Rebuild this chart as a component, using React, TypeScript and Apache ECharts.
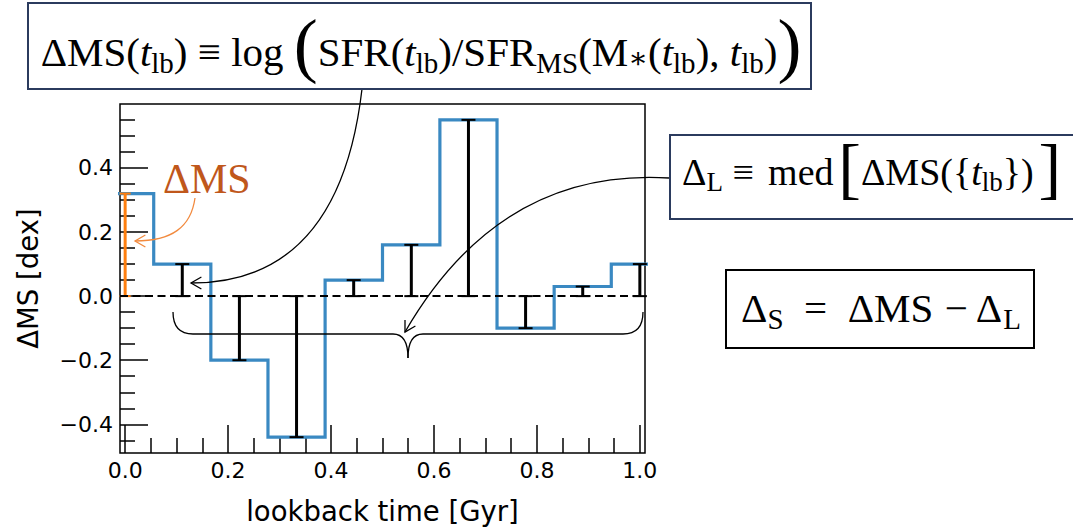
import React, { useEffect, useRef } from "react";
import * as echarts from "echarts";

// ---- data ----
const lookbackTimes = [0.0, 0.111, 0.222, 0.333, 0.444, 0.556, 0.667, 0.778, 0.889, 1.0];
const deltaMS = [0.32, 0.10, -0.20, -0.44, 0.05, 0.16, 0.55, -0.10, 0.03, 0.10];
const xMajorTicks = [0.0, 0.2, 0.4, 0.6, 0.8, 1.0];
const xMinorTicks = [0.05, 0.1, 0.15, 0.25, 0.3, 0.35, 0.45, 0.5, 0.55, 0.65, 0.7, 0.75, 0.85, 0.9, 0.95];
const yMajorTicks = [-0.4, -0.2, 0.0, 0.2, 0.4];
const yMinorTicks = [-0.45, -0.35, -0.3, -0.25, -0.15, -0.1, -0.05, 0.05, 0.1, 0.15, 0.25, 0.3, 0.35, 0.45, 0.5, 0.55];
const xLimits = [-0.01, 1.01];
const yLimits = [-0.4895, 0.5995];
const xAxisTitle = "lookback time [Gyr]";
const yAxisTitle = "ΔMS [dex]";

const SERIF = "'Liberation Serif', 'DejaVu Serif', serif";
const SANS = "'DejaVu Sans', sans-serif";

function richStyles(fs: number, color = "#000") {
  const sub = Math.round(fs * 0.7);
  return {
    n: { fontFamily: SERIF, fontSize: fs, color },
    i: { fontFamily: SERIF, fontSize: fs, fontStyle: "italic", color },
    o: { fontFamily: SERIF, fontSize: fs, color: "#c0571b" },
    s: { fontFamily: SERIF, fontSize: sub, color, padding: [Math.round(fs * 0.52), 0, 0, 0] },
    a: { fontFamily: SERIF, fontSize: sub, color, padding: [Math.round(fs * 0.3), 0, 0, 0] },
    b: { fontFamily: SERIF, fontSize: Math.round(fs * 1.76), color, padding: [0, 0, Math.round(fs * 0.33), 0] },
    k: { fontFamily: SERIF, fontSize: Math.round(fs * 1.8), color, padding: [0, 0, Math.round(fs * 0.2), 0] },
    w: { fontFamily: SERIF, fontSize: Math.round(fs * 0.5), color },
  };
}

function arrowHead(tip: number[], from: number[], len = 12, deg = 30) {
  const dx = from[0] - tip[0];
  const dy = from[1] - tip[1];
  const d = Math.hypot(dx, dy);
  const ux = dx / d, uy = dy / d;
  const a = (deg * Math.PI) / 180;
  const rot = (s: number) => [
    tip[0] + len * (ux * Math.cos(s * a) - uy * Math.sin(s * a)),
    tip[1] + len * (ux * Math.sin(s * a) + uy * Math.cos(s * a)),
  ];
  return [rot(1), tip, rot(-1)];
}

export default function App() {
  const ref = useRef<HTMLDivElement>(null);

  useEffect(() => {
    document.body.style.margin = "0";
    if (!ref.current) return;
    const chart = echarts.init(ref.current, null, { renderer: "svg" });

    // stairs built from the bin centres (steps at midpoints)
    const n = lookbackTimes.length;
    const stairs: number[][] = [];
    lookbackTimes.forEach((t, i) => {
      const prev = i > 0 ? lookbackTimes[i - 1] : t - (lookbackTimes[1] - lookbackTimes[0]);
      const next = i < n - 1 ? lookbackTimes[i + 1] : t + (t - lookbackTimes[i - 1]);
      stairs.push([(prev + t) / 2, deltaMS[i]], [(t + next) / 2, deltaMS[i]]);
    });
    const errData = lookbackTimes.slice(1).map((t, i) => [t, deltaMS[i + 1]]);
    const firstData = [[lookbackTimes[0], deltaMS[0]]];

    const makeBar = (color: string, cap: number) => (params: any, api: any) => {
      const t = api.value(0);
      const v = api.value(1);
      const a = api.coord([t, 0]);
      const b = api.coord([t, v]);
      return {
        type: "group",
        children: [
          { type: "line", shape: { x1: a[0], y1: a[1], x2: b[0], y2: b[1] }, style: { stroke: color, lineWidth: 3 } },
          { type: "line", shape: { x1: b[0] - cap, y1: b[1], x2: b[0] + cap, y2: b[1] }, style: { stroke: color, lineWidth: 2 } },
          { type: "line", shape: { x1: a[0] - cap, y1: a[1], x2: a[0] + cap, y2: a[1] }, style: { stroke: color, lineWidth: 2 } },
        ],
      };
    };

    const tickStyle = { color: "#000", width: 1.5 };
    const yFmt = (v: number) => (Math.abs(v) < 1e-9 ? "0.0" : v < 0 ? "\u2212" + (-v).toFixed(1) : v.toFixed(1));

    // annotation geometry (pixels)
    const a1 = { x1: 362, y1: 89, cpx1: 347, cpy1: 218, cpx2: 290, cpy2: 283, x2: 191, y2: 283 };
    const a2 = { x1: 669, y1: 178, cpx1: 556, cpy1: 171, cpx2: 468, cpy2: 223, x2: 405, y2: 332 };
    const a3 = { x1: 195, y1: 198, cpx1: 191, cpy1: 227, cpx2: 172, cpy2: 241, x2: 135, y2: 241 };
    const thin = { stroke: "#000", lineWidth: 1.3, fill: null };
    const thinO = { stroke: "#f28a3e", lineWidth: 1.3, fill: null };

    const graphic: any[] = [
      // curly brace
      { type: "bezierCurve", z: 50, shape: { x1: 173, y1: 312, cpx1: 173, cpy1: 327, cpx2: 180, cpy2: 334, x2: 193, y2: 334 }, style: thin },
      { type: "line", z: 50, shape: { x1: 193, y1: 334, x2: 393, y2: 334 }, style: thin },
      { type: "bezierCurve", z: 50, shape: { x1: 393, y1: 334, cpx1: 403, cpy1: 334, cpx2: 408, cpy2: 342, x2: 408, y2: 358 }, style: thin },
      { type: "bezierCurve", z: 50, shape: { x1: 408, y1: 358, cpx1: 408, cpy1: 342, cpx2: 413, cpy2: 334, x2: 423, y2: 334 }, style: thin },
      { type: "line", z: 50, shape: { x1: 423, y1: 334, x2: 623, y2: 334 }, style: thin },
      { type: "bezierCurve", z: 50, shape: { x1: 623, y1: 334, cpx1: 636, cpy1: 334, cpx2: 643, cpy2: 327, x2: 643, y2: 312 }, style: thin },
      // arrows
      { type: "bezierCurve", z: 50, shape: a1, style: thin },
      { type: "polyline", z: 50, shape: { points: arrowHead([a1.x2, a1.y2], [a1.cpx2, a1.cpy2]) }, style: thin },
      { type: "bezierCurve", z: 50, shape: a2, style: thin },
      { type: "polyline", z: 50, shape: { points: arrowHead([a2.x2, a2.y2], [a2.cpx2, a2.cpy2]) }, style: thin },
      { type: "bezierCurve", z: 50, shape: a3, style: thinO },
      { type: "polyline", z: 50, shape: { points: arrowHead([a3.x2, a3.y2], [a3.cpx2, a3.cpy2]) }, style: thinO },
      // orange ΔMS label
      {
        type: "text", z: 60, x: 163, y: 179,
        style: { text: "ΔMS", fontFamily: SERIF, fontSize: 42, fill: "#c0571b", align: "left", verticalAlign: "middle" },
      },
      // top box
      { type: "rect", z: 60, shape: { x: 28, y: 3, width: 783, height: 86 }, style: { fill: "#fff", stroke: "#2b3b5e", lineWidth: 2 } },
      {
        type: "text", z: 61, x: 421, y: 52,
        style: {
          text: "{n|ΔMS(}{i|t}{s|lb}{n|) ≡ log }{b|(}{n|SFR(}{i|t}{s|lb}{n|)/SFR}{s|MS}{n|(M}{a|∗}{n|(}{i|t}{s|lb}{n|), }{i|t}{s|lb}{n|)}{b|)}",
          rich: richStyles(41),
          align: "center", verticalAlign: "middle",
        },
      },
      // Delta_L box
      { type: "rect", z: 60, shape: { x: 670, y: 135, width: 420, height: 84 }, style: { fill: "#fff", stroke: "#2b3b5e", lineWidth: 2 } },
      {
        type: "text", z: 61, x: 682, y: 172,
        style: {
          text: "{n|Δ}{s|L}{n| ≡ }{w| }{n|med}{w| }{k|[}{n|ΔMS(}{{i|t}{s|lb}}{n|)}{w| }{k|]}",
          fontFamily: SERIF, fontSize: 38, fill: "#000",
          rich: richStyles(38),
          align: "left", verticalAlign: "middle",
        },
      },
      // Delta_S box
      { type: "rect", z: 60, shape: { x: 726, y: 270, width: 308, height: 78 }, style: { fill: "#fff", stroke: "#000", lineWidth: 2 } },
      {
        type: "text", z: 61, x: 881, y: 308,
        style: {
          text: "{n|Δ}{s|S}{n|  =  }{o|ΔMS}{n| − Δ}{s|L}",
          rich: richStyles(41),
          align: "center", verticalAlign: "middle",
        },
      },
    ];

    const noLine = { show: false, onZero: false };

    chart.setOption({
      animation: false,
      backgroundColor: "#fff",
      grid: { left: 120, top: 104, width: 525, height: 349, show: true, borderColor: "#000", borderWidth: 1.5, backgroundColor: "transparent", containLabel: false },
      xAxis: [
        {
          type: "value", min: xLimits[0], max: xLimits[1], position: "bottom",
          axisLine: noLine, splitLine: { show: false },
          axisTick: { show: true, inside: true, length: 28, customValues: xMajorTicks, lineStyle: tickStyle },
          axisLabel: { customValues: xMajorTicks, formatter: (v: number) => v.toFixed(1), fontFamily: SANS, fontSize: 22, color: "#000", margin: 6 },
          name: xAxisTitle, nameLocation: "middle", nameGap: 44,
          nameTextStyle: { fontFamily: SANS, fontSize: 27.5, color: "#000" },
        },
        {
          type: "value", min: xLimits[0], max: xLimits[1], position: "bottom",
          axisLine: noLine, splitLine: { show: false },
          axisTick: { show: true, inside: true, length: 15, customValues: xMinorTicks, lineStyle: tickStyle },
          axisLabel: { show: false },
        },
      ],
      yAxis: [
        {
          type: "value", min: yLimits[0], max: yLimits[1], position: "left",
          axisLine: noLine, splitLine: { show: false },
          axisTick: { show: true, inside: true, length: 28, customValues: yMajorTicks, lineStyle: tickStyle },
          axisLabel: { customValues: yMajorTicks, formatter: yFmt, fontFamily: SANS, fontSize: 22, color: "#000", margin: 7 },
          name: yAxisTitle, nameLocation: "middle", nameGap: 78,
          nameTextStyle: { fontFamily: SANS, fontSize: 27.5, color: "#000" },
        },
        {
          type: "value", min: yLimits[0], max: yLimits[1], position: "left",
          axisLine: noLine, splitLine: { show: false },
          axisTick: { show: true, inside: true, length: 15, customValues: yMinorTicks, lineStyle: tickStyle },
          axisLabel: { show: false },
        },
      ],
      series: [
        {
          type: "line", name: "ΔMS", data: stairs, xAxisIndex: 0, yAxisIndex: 0, z: 2,
          showSymbol: false, symbol: "none", clip: true,
          lineStyle: { color: "#3a89c2", width: 3.2, join: "miter" },
          markLine: {
            silent: true, symbol: ["none", "none"], label: { show: false },
            lineStyle: { color: "#000", type: [8, 4.5], width: 2.2 },
            data: [{ yAxis: 0 }],
          },
        },
        { type: "custom", name: "error", data: errData, z: 4, renderItem: makeBar("#000", 7) },
        { type: "custom", name: "first", data: firstData, z: 4, renderItem: makeBar("#ff7f0e", 5.5) },
      ],
      graphic,
    });

    return () => chart.dispose();
  }, []);

  return <div ref={ref} style={{ width: 1073, height: 531 }} />;
}
